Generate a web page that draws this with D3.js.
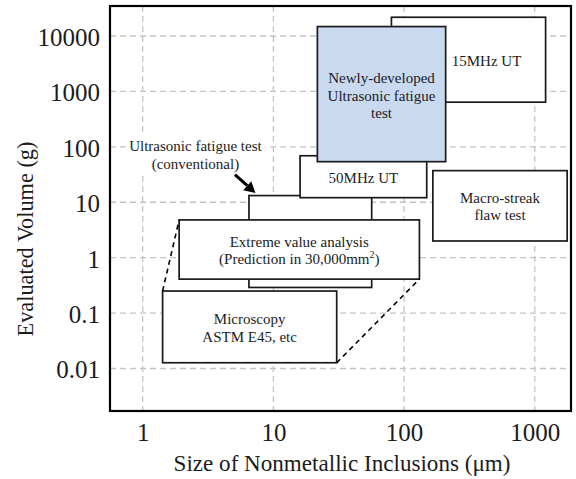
<!DOCTYPE html>
<html><head><meta charset="utf-8">
<script src="https://cdn.jsdelivr.net/npm/d3@7/dist/d3.min.js"></script>
<style>
html,body{margin:0;padding:0;background:#fff;}
svg{display:block;font-family:"Liberation Serif","Times New Roman",serif;}
</style></head>
<body>
<script>
// ---------- data ----------
const xTicks = [1, 10, 100, 1000];
const xTickLabels = ["1", "10", "100", "1000"];
const yTicks = [0.01, 0.1, 1, 10, 100, 1000, 10000];
const yTickLabels = ["0.01", "0.1", "1", "10", "100", "1000", "10000"];
const xDomain = [0.562, 1893];
const yDomain = [0.00171, 34800];

// boxes, drawn back to front
const boxNames = ["15MHz UT", "Conventional UFT", "50MHz UT", "Extreme value", "Microscopy", "Newly-developed", "Macro-streak"];
const sizeMin = [80, 6.5, 16, 1.9, 1.42, 21.7, 166];
const sizeMax = [1210, 56.5, 149, 131, 30.5, 208, 1770];
const volMin  = [640, 0.29, 12.1, 0.41, 0.0127, 54, 2.0];
const volMax  = [21800, 13.2, 69, 4.8, 0.25, 14800, 37.2];
const boxLabels = [
  ["15MHz UT"],
  [],
  ["50MHz UT"],
  ["Extreme value analysis", "(Prediction in 30,000mm|2|)"],
  ["Microscopy", "ASTM E45, etc"],
  ["Newly-developed", "Ultrasonic fatigue", "test"],
  ["Macro-streak", "flaw test"]
];
const calloutLines = ["Ultrasonic fatigue test", "(conventional)"];

// ---------- layout ----------
const W = 576, H = 479;
const plot = {l: 110, r: 571, t: 6, b: 411};
const boxFill = ["#fff", "#fff", "#fff", "#fff", "#fff", "#c9d9ef", "#fff"];
const labelOffset = [[18, 1], [0, 0], [0, 1], [0, 1], [0, 1.3], [0, 1.6], [0, 0.5]];
const lineH = 17.5;
const textColor = "#1c1c1c";

const svg = d3.select("body").append("svg").attr("width", W).attr("height", H);
const x = d3.scaleLog().domain(xDomain).range([plot.l, plot.r]);
const y = d3.scaleLog().domain(yDomain).range([plot.b, plot.t]);

// grid
const grid = svg.append("g").attr("stroke", "#c4c4c4").attr("stroke-width", 1.3).attr("stroke-dasharray", "6,4");
grid.selectAll("line.gx").data(xTicks).join("line").attr("class", "gx")
  .attr("x1", d => x(d)).attr("x2", d => x(d)).attr("y1", plot.t).attr("y2", plot.b);
grid.selectAll("line.gy").data(yTicks).join("line").attr("class", "gy")
  .attr("y1", d => y(d)).attr("y2", d => y(d)).attr("x1", plot.l).attr("x2", plot.r);

// axes via d3 axis (labels only)
const xAxis = d3.axisBottom(x).tickValues(xTicks).tickFormat((d, i) => xTickLabels[i]).tickSize(0).tickPadding(0);
const gx = svg.append("g").attr("transform", `translate(0,${plot.b})`).call(xAxis);
gx.select(".domain").remove();
gx.attr("font-family", null);
gx.selectAll("text").attr("font-size", 25).attr("fill", textColor)
  .attr("dy", null).attr("y", 30);

const yAxis = d3.axisLeft(y).tickValues(yTicks).tickFormat((d, i) => yTickLabels[i]).tickSize(0).tickPadding(10);
const gy = svg.append("g").attr("transform", `translate(${plot.l},0)`).call(yAxis);
gy.select(".domain").remove();
gy.attr("font-family", null);
gy.selectAll("text").attr("font-size", 25).attr("fill", textColor).attr("dy", "0.38em");

// boxes
const idx = d3.range(boxNames.length);
const gb = svg.append("g");
idx.forEach(i => {
  const x0 = x(sizeMin[i]), x1 = x(sizeMax[i]), y0 = y(volMax[i]), y1 = y(volMin[i]);
  gb.append("rect").attr("x", x0).attr("y", y0).attr("width", x1 - x0).attr("height", y1 - y0)
    .attr("fill", boxFill[i]).attr("stroke", "#1a1a1a").attr("stroke-width", 1.7);
});

// dashed connectors (microscopy -> extreme value)
const iM = boxNames.indexOf("Microscopy"), iE = boxNames.indexOf("Extreme value");
const conn = [
  [[sizeMin[iM], volMax[iM]], [sizeMin[iE], volMax[iE]]],
  [[sizeMax[iM], volMin[iM]], [sizeMax[iE], volMin[iE]]]
];
svg.append("g").selectAll("line").data(conn).join("line")
  .attr("x1", d => x(d[0][0])).attr("y1", d => y(d[0][1]))
  .attr("x2", d => x(d[1][0])).attr("y2", d => y(d[1][1]))
  .attr("stroke", "#000").attr("stroke-width", 1.6).attr("stroke-dasharray", "5,4");

// box labels
idx.forEach(i => {
  const lines = boxLabels[i];
  if (!lines.length) return;
  const cx = (x(sizeMin[i]) + x(sizeMax[i])) / 2 + labelOffset[i][0];
  const cy = (y(volMin[i]) + y(volMax[i])) / 2 + labelOffset[i][1];
  lines.forEach((s, k) => {
    const by = cy - (lines.length - 1) * lineH / 2 + k * lineH + 5;
    const t = svg.append("text").attr("x", cx).attr("y", by).attr("text-anchor", "middle")
      .attr("font-size", 15).attr("fill", textColor);
    const parts = s.split("|");
    if (parts.length === 3) {
      t.append("tspan").text(parts[0]);
      t.append("tspan").attr("font-size", 10).attr("dy", -6).text(parts[1]);
      t.append("tspan").attr("dy", 6).text(parts[2]);
    } else t.text(s);
  });
});

// callout for conventional ultrasonic fatigue test
const iC = boxNames.indexOf("Conventional UFT");
const cX = x(sizeMin[iC]), cY = y(volMax[iC]);
const lcx = cX - 53.5, lcy = cY - 40.5;
svg.append("rect").attr("x", lcx - 70).attr("y", lcy - 19).attr("width", 140).attr("height", 36).attr("fill", "#fff");
calloutLines.forEach((s, k) => {
  svg.append("text").attr("x", lcx).attr("y", lcy - 8.7 + k * 17.3 + 5).attr("text-anchor", "middle")
    .attr("font-size", 15).attr("fill", textColor).text(s);
});
// arrow
const ax0 = cX - 14, ay0 = cY - 21, ax1 = cX + 6.5, ay1 = cY - 2.5;
const ang = Math.atan2(ay1 - ay0, ax1 - ax0);
const hl = 11, hw = 6;
const bx = ax1 - hl * Math.cos(ang), by = ay1 - hl * Math.sin(ang);
svg.append("line").attr("x1", ax0).attr("y1", ay0).attr("x2", bx).attr("y2", by)
  .attr("stroke", "#000").attr("stroke-width", 3);
svg.append("path").attr("d", d3.line()([
  [ax1, ay1],
  [bx + hw * Math.sin(ang), by - hw * Math.cos(ang)],
  [bx - hw * Math.sin(ang), by + hw * Math.cos(ang)]
])).attr("fill", "#000");

// frame
svg.append("rect").attr("x", plot.l).attr("y", plot.t).attr("width", plot.r - plot.l).attr("height", plot.b - plot.t)
  .attr("fill", "none").attr("stroke", "#000").attr("stroke-width", 2.2);

// axis titles
svg.append("text").attr("x", (plot.l + plot.r) / 2 + 1.5).attr("y", 470.5).attr("text-anchor", "middle")
  .attr("font-size", 23.1).attr("fill", textColor).text("Size of Nonmetallic Inclusions (μm)");
svg.append("text").attr("transform", "translate(33,239) rotate(-90)").attr("text-anchor", "middle")
  .attr("font-size", 22.3).attr("fill", textColor).text("Evaluated Volume (g)");
</script>
</body></html>
